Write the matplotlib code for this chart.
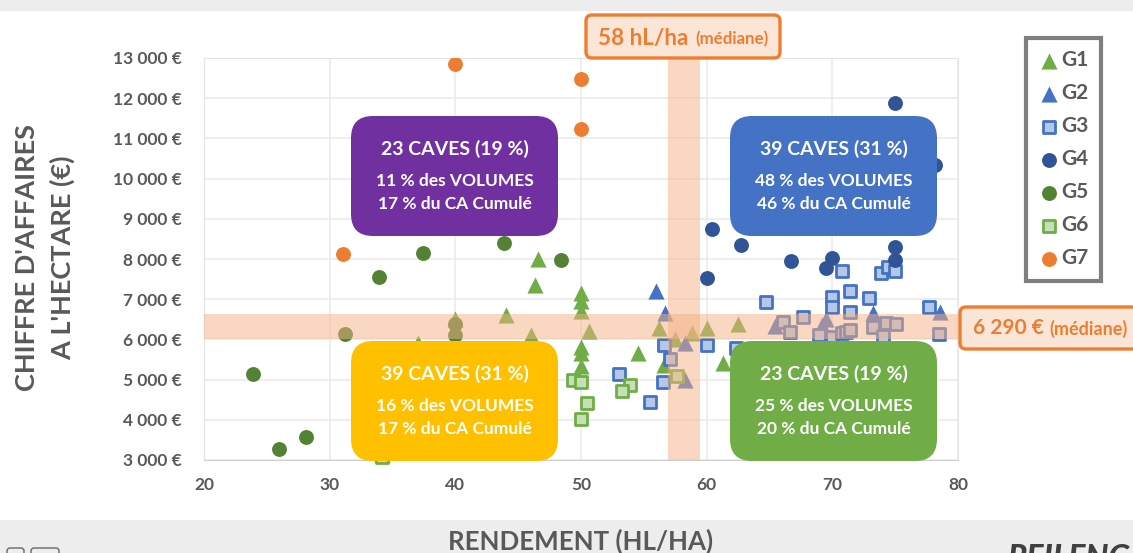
import matplotlib
matplotlib.use('Agg')
import matplotlib.pyplot as plt
from matplotlib.patches import FancyBboxPatch, Rectangle

plt.rcParams['font.family'] = ['Lato', 'DejaVu Sans']

W, H = 1133, 553

g1_x = [34.2, 37, 40, 44, 46, 46.6, 46.3, 50, 50, 50, 50.6, 50, 50, 50, 54.5, 56.2, 56.6, 57.5, 58.8, 60, 61.3, 62.5]
g1_y = [3150, 5900, 6500, 6600, 6100, 8000, 7350, 7150, 6950, 6700, 6200, 5800, 5650, 5350, 5660, 6290, 5360, 6000, 6150, 6290, 5410, 6380]
g2_x = [56, 56.7, 58.3, 58.3, 65.4, 69.5, 69.2, 69, 73.2, 78.6]
g2_y = [7200, 6650, 5900, 5000, 6330, 6500, 6350, 6150, 6650, 6680]
g3_x = [56.6, 57.1, 53, 56.5, 55.5, 60, 62.3, 64.7, 66.1, 66.6, 67.7, 68.9, 70, 70.8, 70, 70, 71.4, 71.4,
        70.8, 71.1, 71.4, 72.9, 73.2, 74, 74.3, 75.1, 73.9, 74.4, 75, 77.7, 78.5]
g3_y = [5860, 5510, 5140, 4940, 4440, 5860, 5780, 6930, 6430, 6180, 6560, 6100, 6050, 7700, 7060, 6810, 7200, 6680,
        6160, 6180, 6230, 7030, 6310, 6080, 6400, 6380, 7650, 7800, 7700, 6800, 6130]
g4_x = [75, 78.2, 60.4, 62.7, 75, 66.7, 75, 70, 69.5, 60]
g4_y = [11870, 10350, 8750, 8350, 8300, 7950, 7980, 8020, 7770, 7520]
g5_x = [23.9, 26, 28.1, 31.2, 33.9, 37.4, 40, 40, 43.9, 48.4]
g5_y = [5140, 3270, 3570, 6130, 7550, 8150, 6380, 6110, 8390, 7980]
g6_x = [34.2, 49.4, 50, 50.5, 50, 53.9, 53.3, 57.6]
g6_y = [3080, 4990, 4950, 4420, 4020, 4870, 4720, 5090]
g7_x = [40, 50, 50, 31.1]
g7_y = [12850, 12470, 11230, 8130]

x_ticks = [20, 30, 40, 50, 60, 70, 80]
y_ticks = [3000, 4000, 5000, 6000, 7000, 8000, 9000, 10000, 11000, 12000, 13000]
y_labels = ['3 000 €', '4 000 €', '5 000 €', '6 000 €', '7 000 €', '8 000 €',
            '9 000 €', '10 000 €', '11 000 €', '12 000 €', '13 000 €']
band_x = (56.9, 59.5)
band_y = (6010, 6630)

fig = plt.figure(figsize=(W / 100, H / 100), dpi=100, facecolor='white')
ax = fig.add_axes([204 / W, 1 - 460 / H, 754 / W, 402 / H])
ax.set_xlim(20, 80)
ax.set_ylim(3000, 13000)
ax.set_xticks(x_ticks)
ax.set_yticks(y_ticks)
ax.set_yticklabels(y_labels)
ax.tick_params(length=0, labelsize=12.5, labelcolor='#595959')
ax.tick_params(axis='y', pad=16)
ax.tick_params(axis='x', pad=12.5)
for lab in ax.get_xticklabels() + ax.get_yticklabels():
    lab.set_fontweight('bold')
ax.grid(color='#EAEAEA', lw=1.1)
ax.set_axisbelow(True)
for s in ax.spines.values():
    s.set_color('#E4E4E4')
ax.spines['bottom'].set_color('#CFCFCF')

ax.scatter(g1_x, g1_y, marker='^', s=135, c='#70AD47', label='G1', zorder=3, clip_on=False, linewidths=0)
ax.scatter(g2_x, g2_y, marker='^', s=135, c='#4472C4', label='G2', zorder=3, linewidths=0)
ax.scatter(g3_x, g3_y, marker='s', s=72, c='#B4C7E7', edgecolors='#4472C4', linewidths=2, label='G3', zorder=3)
ax.scatter(g4_x, g4_y, marker='o', s=115, c='#2F5597', label='G4', zorder=3, linewidths=0)
ax.scatter(g5_x, g5_y, marker='o', s=115, c='#548235', label='G5', zorder=3, clip_on=False, linewidths=0)
ax.scatter(g6_x, g6_y, marker='s', s=72, c='#C5E0B4', edgecolors='#70AD47', linewidths=2, label='G6', zorder=3, clip_on=False)
ax.scatter(g7_x, g7_y, marker='o', s=115, c='#ED7D31', label='G7', zorder=3, linewidths=0)

ax.axvspan(band_x[0], band_x[1], color='#F4B183', alpha=0.5, lw=0, zorder=4)
ax.axhspan(band_y[0], band_y[1], color='#F4B183', alpha=0.5, lw=0, zorder=4)

leg = ax.legend(loc='upper left', bbox_to_anchor=(1026 / W, 1 - 38 / H), bbox_transform=fig.transFigure,
                borderaxespad=0, fancybox=False, edgecolor='#7F7F7F', framealpha=1, handletextpad=0.1,
                labelspacing=0.62, borderpad=0.6, handlelength=1.0,
                prop={'weight': 'bold', 'size': 15})
leg.get_frame().set_linewidth(3)
for t in leg.get_texts():
    t.set_color('#595959')

# overlay in pixels for the boxes and titles
ov = fig.add_axes([0, 0, 1, 1], zorder=10)
ov.set_xlim(0, W)
ov.set_ylim(H, 0)
ov.axis('off')
ov.patch.set_alpha(0)

ov.add_patch(Rectangle((0, 0), W, 11, color='#EDEDED', lw=0))
ov.add_patch(Rectangle((0, 520), W, 33, color='#EDEDED', lw=0))


def quadrant(x0, y0, color, lines):
    ov.add_patch(FancyBboxPatch((x0 + 20, y0 + 20), 167, 80, boxstyle='round,pad=20,rounding_size=22',
                                fc=color, ec='none'))
    ov.text(x0 + 103.5, y0 + 33, lines[0], color='white', fontsize=14, fontweight='bold', ha='center', va='center')
    ov.text(x0 + 103.5, y0 + 65, lines[1], color='white', fontsize=12.5, fontweight='bold', ha='center', va='center')
    ov.text(x0 + 103.5, y0 + 88, lines[2], color='white', fontsize=12.5, fontweight='bold', ha='center', va='center')


quadrant(351, 116, '#7030A0', ['23 CAVES (19 %)', '11 % des VOLUMES', '17 % du CA Cumulé'])
quadrant(730, 116, '#4472C4', ['39 CAVES (31 %)', '48 % des VOLUMES', '46 % du CA Cumulé'])
quadrant(351, 341, '#FFC000', ['39 CAVES (31 %)', '16 % des VOLUMES', '17 % du CA Cumulé'])
quadrant(730, 341, '#70AD47', ['23 CAVES (19 %)', '25 % des VOLUMES', '20 % du CA Cumulé'])


def median_box(x0, y0, w, h, big, small, bx, sx, ty, big_size, small_size):
    ov.add_patch(FancyBboxPatch((x0 + 6, y0 + 6), w - 12, h - 12, boxstyle='round,pad=6,rounding_size=6',
                                fc='#FBE5D6', ec='#ED7D31', lw=2.4))
    ov.text(bx, ty, big, color='#ED7D31', fontsize=big_size, fontweight='bold', ha='left', va='center')
    ov.text(sx, ty + 1, small, color='#ED7D31', fontsize=small_size, fontweight='bold', ha='left', va='center')


median_box(586, 15, 194, 43, '58 hL/ha', '(médiane)', 598, 695, 38, 16.2, 12.2)
median_box(960, 307, 190, 42, '6 290 €', '(médiane)', 973, 1049, 328, 15, 13)

ov.text(27, 258, "CHIFFRE D'AFFAIRES", rotation=90, color='#595959', fontsize=19.5, fontweight='bold',
        ha='center', va='center')
ov.text(62, 258, "A L'HECTARE (€)", rotation=90, color='#595959', fontsize=19.5, fontweight='bold',
        ha='center', va='center')
ov.text(581, 541, 'RENDEMENT (HL/HA)', color='#595959', fontsize=18.6, fontweight='bold', ha='center', va='center')

# cropped logo and icons at the bottom edge
ov.text(1008, 558, 'REILENG', color='#404040', fontsize=23, fontweight='black', style='italic', ha='left', va='center')
ov.add_patch(FancyBboxPatch((7, 548), 17, 14, boxstyle='round,pad=0,rounding_size=3', fc='none', ec='#666666', lw=1))
ov.add_patch(FancyBboxPatch((31, 548), 28, 14, boxstyle='round,pad=0,rounding_size=3', fc='none', ec='#666666', lw=1))

fig.savefig('out.png', dpi=100)
